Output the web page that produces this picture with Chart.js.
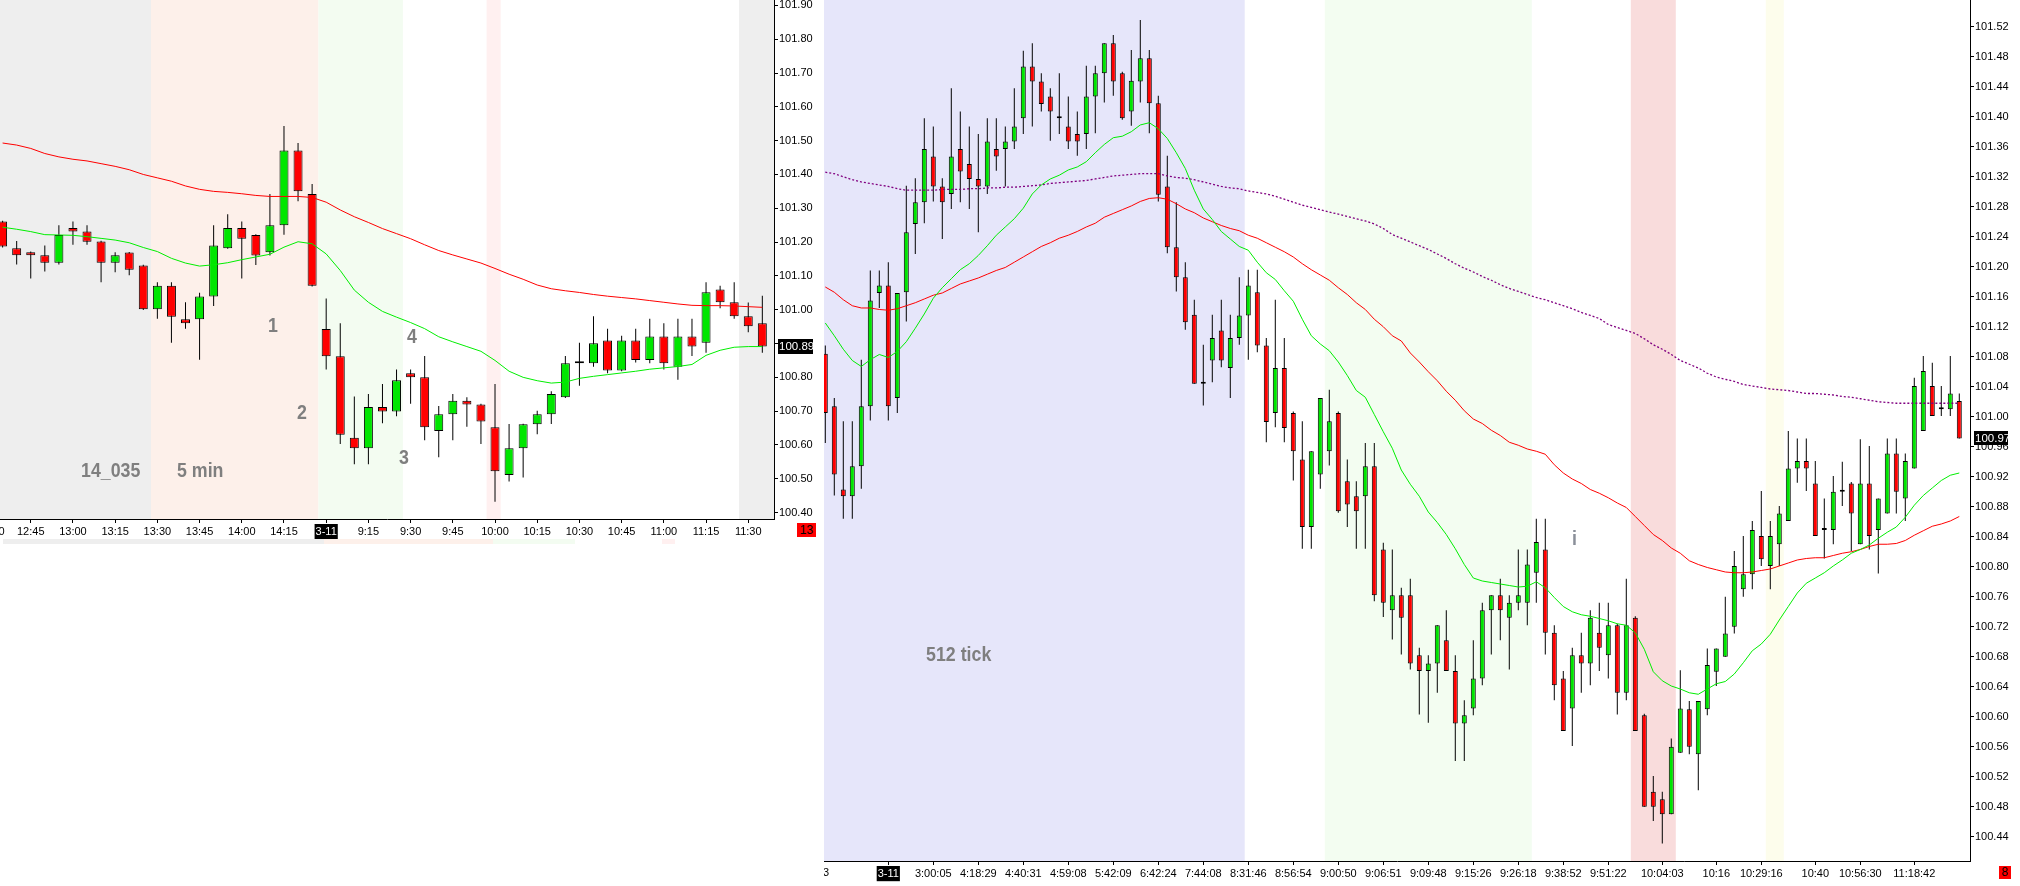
<!DOCTYPE html>
<html><head><meta charset="utf-8">
<script src="https://cdn.jsdelivr.net/npm/chart.js@4/dist/chart.umd.min.js"></script>
<style>
html,body{margin:0;padding:0;background:#fff;width:2020px;height:886px;overflow:hidden;position:relative;}
#wrapL{position:absolute;left:0;top:0;width:820px;height:545px;}
#wrapR{position:absolute;left:824px;top:0;width:1196px;height:886px;}
.ann{position:absolute;font-family:'Liberation Sans',Arial,sans-serif;font-weight:bold;font-size:20px;line-height:20px;color:#7f7f7f;white-space:nowrap;transform:translateY(-50%) scaleX(0.89);transform-origin:0 50%;}
.box{position:absolute;background:#ff0000;color:#000;font-family:'Liberation Sans',Arial,sans-serif;font-size:12px;text-align:center;}
.strip{position:absolute;top:539px;height:5px;}
.lbl{position:absolute;font-family:'Liberation Sans',Arial,sans-serif;font-size:11px;color:#000;white-space:nowrap;}
</style></head>
<body>
<div id="wrapL"><canvas id="cL"></canvas></div>
<div id="wrapR"><canvas id="cR"></canvas></div>

<div class="strip" style="left:3px;width:321px;background:#eeeeee"></div>
<div class="strip" style="left:324px;width:169px;background:#fdf0ea"></div>
<div class="strip" style="left:493px;width:82px;background:#f3fcf1"></div>
<div class="strip" style="left:662px;width:13px;background:#fff0f0"></div>

<div class="ann" style="left:81px;top:470px">14_035</div>
<div class="ann" style="left:177px;top:470px">5 min</div>
<div class="ann" style="left:268px;top:325px">1</div>
<div class="ann" style="left:297px;top:412px">2</div>
<div class="ann" style="left:399px;top:457px">3</div>
<div class="ann" style="left:407px;top:336px">4</div>
<div class="ann" style="left:926px;top:654px">512 tick</div>
<div class="ann" style="left:1572px;top:538px;color:#8a8f99">i</div>

<div class="box" style="left:797px;top:523px;width:19px;height:14px;line-height:14px">13</div>
<div class="box" style="left:1999px;top:866px;width:12px;height:13px;line-height:13px">8</div>
<div class="lbl" style="left:-23px;top:525px">12:30</div>
<div style="position:absolute;left:824px;top:866px;width:5px;height:16px;overflow:hidden"><div class="lbl" style="right:0;top:0">3</div></div>

<script>
// ---------- LEFT CHART (5 min) ----------
const lLabels = {2:'12:45',5:'13:00',8:'13:15',11:'13:30',14:'13:45',17:'14:00',20:'14:15',23:'3-11',26:'9:15',29:'9:30',32:'9:45',35:'10:00',38:'10:15',41:'10:30',44:'10:45',47:'11:00',50:'11:15',53:'11:30'};
const lYTicks = [100.40,100.50,100.60,100.70,100.80,100.90,101.00,101.10,101.20,101.30,101.40,101.50,101.60,101.70,101.80,101.90];
const lOpen  = [101.261,101.182,101.170,101.161,101.139,101.242,101.231,101.202,101.139,101.169,101.131,101.001,101.071,100.972,100.972,101.039,101.182,101.242,101.221,101.170,101.250,101.471,101.342,100.943,100.862,100.621,100.590,100.712,100.699,100.812,100.800,100.641,100.691,100.731,100.720,100.652,100.511,100.590,100.661,100.691,100.741,100.842,100.842,100.909,100.820,100.909,100.851,100.921,100.831,100.921,100.902,101.060,101.022,100.981,100.960];
const lHigh  = [101.263,101.203,101.172,101.190,101.250,101.261,101.250,101.204,101.170,101.171,101.133,101.081,101.081,101.022,101.050,101.250,101.282,101.261,101.223,101.342,101.543,101.493,101.372,101.033,100.960,100.743,100.751,100.780,100.823,100.823,100.863,100.715,100.751,100.741,100.722,100.780,100.662,100.663,100.701,100.759,100.863,100.902,100.981,100.944,100.923,100.944,100.973,100.960,100.973,100.973,101.081,101.071,101.081,101.021,101.041];
const lLow   = [101.184,101.134,101.092,101.113,101.134,101.192,101.192,101.081,101.111,101.102,100.999,100.973,100.902,100.944,100.852,101.011,101.180,101.092,101.132,101.160,101.222,101.321,101.069,100.823,100.603,100.543,100.543,100.664,100.685,100.722,100.614,100.564,100.614,100.654,100.603,100.432,100.492,100.504,100.632,100.662,100.739,100.775,100.831,100.812,100.818,100.844,100.842,100.823,100.793,100.863,100.873,101.004,100.973,100.933,100.873];
const lClose = [101.187,101.161,101.161,101.139,101.221,101.231,101.201,101.139,101.161,101.118,101.001,101.071,100.979,100.960,101.039,101.190,101.242,101.210,101.160,101.250,101.471,101.350,101.071,100.862,100.630,100.590,100.712,100.699,100.791,100.800,100.652,100.691,100.731,100.720,100.669,100.522,100.590,100.661,100.691,100.751,100.842,100.842,100.901,100.820,100.909,100.851,100.921,100.842,100.921,100.891,101.052,101.022,100.981,100.951,100.891];
const lMaSlow = [101.493,101.487,101.477,101.462,101.452,101.445,101.440,101.432,101.424,101.414,101.400,101.390,101.380,101.366,101.356,101.350,101.347,101.343,101.338,101.335,101.335,101.335,101.332,101.318,101.295,101.275,101.258,101.240,101.225,101.210,101.192,101.175,101.162,101.150,101.138,101.122,101.105,101.090,101.073,101.062,101.056,101.051,101.045,101.040,101.036,101.032,101.027,101.022,101.017,101.013,101.012,101.012,101.011,101.009,101.007];
const lMaFast = [101.244,101.238,101.231,101.222,101.221,101.220,101.216,101.211,101.206,101.198,101.184,101.172,101.152,101.138,101.129,101.133,101.139,101.148,101.156,101.164,101.185,101.201,101.195,101.165,101.116,101.058,101.022,100.995,100.978,100.962,100.944,100.920,100.905,100.891,100.877,100.850,100.818,100.800,100.790,100.783,100.786,100.797,100.803,100.808,100.813,100.818,100.824,100.828,100.832,100.838,100.865,100.880,100.889,100.891,100.891];
const lBands = [[-1,10.55,'#eeeeee'],[10.55,22.45,'#fdf0ea'],[22.45,28.45,'#f3fcf1'],[34.4,35.4,'#fff0f0'],[52.35,60,'#eeeeee']];

// ---------- RIGHT CHART (512 tick) ----------
const rLabels = {7:'3-11',12:'3:00:05',17:'4:18:29',22:'4:40:31',27:'4:59:08',32:'5:42:09',37:'6:42:24',42:'7:44:08',47:'8:31:46',52:'8:56:54',57:'9:00:50',62:'9:06:51',67:'9:09:48',72:'9:15:26',77:'9:26:18',82:'9:38:52',87:'9:51:22',93:'10:04:03',99:'10:16',104:'10:29:16',110:'10:40',115:'10:56:30',121:'11:18:42'};
const rYTicks = [100.44,100.48,100.52,100.56,100.60,100.64,100.68,100.72,100.76,100.80,100.84,100.88,100.92,100.96,101.00,101.04,101.08,101.12,101.16,101.20,101.24,101.28,101.32,101.36,101.40,101.44,101.48,101.52];
const rOpen  = [101.084,101.014,100.903,100.894,100.934,101.014,101.165,101.175,101.025,101.166,101.257,101.286,101.347,101.307,101.297,101.357,101.337,101.317,101.307,101.357,101.357,101.367,101.398,101.467,101.447,101.427,101.398,101.387,101.377,101.377,101.427,101.458,101.498,101.458,101.407,101.447,101.478,101.418,101.307,101.226,101.186,101.136,101.044,101.075,101.115,101.065,101.105,101.135,101.166,101.095,101.005,101.065,101.005,100.943,100.853,100.923,100.954,101.005,100.914,100.894,100.894,100.934,100.823,100.742,100.762,100.762,100.682,100.661,100.671,100.702,100.661,100.591,100.611,100.651,100.742,100.762,100.732,100.752,100.752,100.792,100.823,100.712,100.651,100.611,100.682,100.671,100.712,100.682,100.722,100.632,100.732,100.602,100.500,100.490,100.470,100.552,100.610,100.550,100.610,100.660,100.680,100.720,100.770,100.790,100.841,100.801,100.830,100.861,100.931,100.941,100.911,100.849,100.849,100.900,100.911,100.830,100.911,100.849,100.871,100.951,100.891,100.931,100.981,101.041,101.010,101.010,101.021];
const rHigh  = [101.095,101.025,100.994,100.994,101.076,101.195,101.195,101.206,101.165,101.308,101.318,101.398,101.387,101.318,101.438,101.407,101.387,101.377,101.398,101.398,101.387,101.438,101.488,101.498,101.458,101.438,101.458,101.427,101.407,101.468,101.468,101.498,101.509,101.460,101.489,101.529,101.489,101.428,101.348,101.286,101.206,101.156,101.096,101.136,101.156,101.136,101.186,101.196,101.196,101.105,101.156,101.105,101.007,100.994,100.954,101.025,101.036,101.007,100.943,100.914,100.965,100.965,100.832,100.823,100.772,100.784,100.692,100.682,100.722,100.742,100.682,100.622,100.702,100.752,100.762,100.784,100.762,100.823,100.823,100.864,100.864,100.722,100.661,100.692,100.712,100.742,100.752,100.752,100.724,100.784,100.734,100.604,100.521,100.500,100.571,100.662,100.621,100.621,100.691,100.691,100.760,100.821,100.841,100.861,100.901,100.861,100.881,100.981,100.971,100.971,100.941,100.891,100.921,100.940,100.913,100.970,100.961,100.891,100.971,100.971,100.951,101.052,101.081,101.072,101.041,101.081,101.031];
const rLow   = [100.965,100.895,100.864,100.864,100.904,100.995,101.145,100.995,101.005,101.127,101.217,101.258,101.287,101.237,101.277,101.286,101.277,101.246,101.297,101.328,101.307,101.357,101.377,101.387,101.407,101.368,101.377,101.357,101.348,101.357,101.378,101.419,101.428,101.396,101.388,101.419,101.378,101.287,101.218,101.167,101.116,101.044,101.015,101.046,101.066,101.025,101.096,101.076,101.086,100.966,100.986,100.966,100.915,100.824,100.824,100.904,100.935,100.872,100.853,100.824,100.824,100.754,100.733,100.703,100.683,100.663,100.603,100.592,100.632,100.661,100.541,100.541,100.602,100.642,100.683,100.702,100.663,100.742,100.722,100.752,100.683,100.622,100.581,100.561,100.632,100.642,100.661,100.651,100.603,100.622,100.581,100.480,100.461,100.431,100.470,100.552,100.550,100.502,100.602,100.641,100.680,100.711,100.760,100.770,100.801,100.770,100.801,100.861,100.912,100.901,100.841,100.811,100.830,100.881,100.821,100.830,100.823,100.791,100.871,100.871,100.861,100.931,100.981,101.001,101.001,101.001,100.971];
const rClose = [101.005,100.923,100.894,100.934,101.014,101.155,101.175,101.014,101.165,101.246,101.286,101.357,101.307,101.286,101.347,101.327,101.317,101.307,101.367,101.347,101.367,101.387,101.467,101.447,101.417,101.407,101.398,101.367,101.367,101.427,101.458,101.498,101.447,101.398,101.448,101.478,101.418,101.296,101.226,101.186,101.126,101.044,101.044,101.105,101.075,101.105,101.135,101.175,101.095,100.993,101.065,100.985,100.954,100.853,100.954,101.025,100.994,100.874,100.883,100.874,100.934,100.762,100.752,100.762,100.732,100.671,100.661,100.671,100.722,100.661,100.591,100.602,100.651,100.742,100.762,100.742,100.752,100.762,100.803,100.833,100.712,100.642,100.581,100.682,100.671,100.732,100.692,100.722,100.632,100.722,100.581,100.480,100.480,100.470,100.560,100.611,100.560,100.621,100.669,100.691,100.711,100.801,100.790,100.849,100.810,100.841,100.871,100.931,100.941,100.931,100.841,100.849,100.900,100.900,100.871,100.911,100.841,100.891,100.951,100.900,100.941,101.041,101.061,101.001,101.010,101.031,100.971];
const rMaFast = [101.125,101.108,101.090,101.075,101.067,101.076,101.083,101.079,101.087,101.100,101.118,101.137,101.158,101.172,101.184,101.196,101.204,101.215,101.228,101.242,101.253,101.264,101.278,101.297,101.309,101.317,101.322,101.329,101.333,101.340,101.352,101.363,101.372,101.374,101.380,101.389,101.392,101.384,101.371,101.352,101.331,101.302,101.277,101.263,101.247,101.237,101.227,101.222,101.206,101.192,101.183,101.168,101.154,101.130,101.108,101.097,101.088,101.073,101.055,101.035,101.026,101.003,100.980,100.958,100.929,100.910,100.894,100.873,100.859,100.843,100.824,100.803,100.785,100.781,100.779,100.777,100.775,100.773,100.774,100.780,100.772,100.759,100.747,100.740,100.736,100.734,100.731,100.728,100.724,100.722,100.712,100.690,100.660,100.648,100.641,100.637,100.632,100.630,100.637,100.644,100.647,100.657,100.672,100.688,100.697,100.710,100.729,100.747,100.765,100.778,100.785,100.792,100.801,100.809,100.818,100.823,100.829,100.838,100.846,100.853,100.866,100.882,100.895,100.905,100.915,100.922,100.925];
const rMaMid = [101.173,101.166,101.156,101.148,101.145,101.145,101.143,101.142,101.144,101.148,101.152,101.157,101.162,101.165,101.171,101.177,101.181,101.185,101.190,101.195,101.199,101.206,101.213,101.220,101.227,101.232,101.238,101.242,101.247,101.253,101.258,101.266,101.271,101.276,101.281,101.287,101.291,101.292,101.290,101.284,101.277,101.272,101.265,101.260,101.255,101.251,101.248,101.242,101.238,101.232,101.226,101.220,101.213,101.204,101.196,101.189,101.182,101.172,101.163,101.152,101.143,101.130,101.120,101.108,101.101,101.085,101.073,101.060,101.048,101.034,101.022,101.008,100.997,100.991,100.982,100.975,100.966,100.962,100.957,100.954,100.950,100.936,100.925,100.917,100.911,100.903,100.898,100.892,100.885,100.879,100.867,100.855,100.843,100.835,100.825,100.818,100.808,100.803,100.799,100.796,100.793,100.792,100.792,100.793,100.795,100.797,100.801,100.805,100.809,100.811,100.812,100.812,100.815,100.818,100.820,100.823,100.827,100.830,100.830,100.831,100.835,100.842,100.848,100.854,100.857,100.861,100.867];
const rMaSlow = [101.326,101.324,101.320,101.316,101.313,101.311,101.309,101.307,101.304,101.302,101.302,101.302,101.302,101.303,101.303,101.303,101.304,101.304,101.305,101.305,101.306,101.306,101.307,101.308,101.309,101.311,101.312,101.313,101.314,101.315,101.317,101.319,101.321,101.322,101.323,101.324,101.324,101.324,101.321,101.319,101.318,101.316,101.313,101.310,101.307,101.305,101.304,101.301,101.299,101.297,101.294,101.290,101.286,101.282,101.279,101.276,101.273,101.270,101.267,101.264,101.261,101.257,101.251,101.243,101.238,101.233,101.228,101.223,101.217,101.211,101.204,101.198,101.193,101.187,101.182,101.176,101.171,101.167,101.163,101.159,101.156,101.152,101.148,101.144,101.139,101.135,101.131,101.123,101.119,101.115,101.111,101.104,101.096,101.090,101.083,101.075,101.070,101.065,101.058,101.053,101.050,101.047,101.043,101.041,101.039,101.037,101.036,101.035,101.033,101.031,101.031,101.030,101.029,101.027,101.026,101.024,101.022,101.020,101.019,101.018,101.018,101.018,101.018,101.018,101.018,101.018,101.018];
const rBands = [[-1,46.6,'#e6e6fa'],[55.5,78.5,'#f3fdf1'],[89.5,94.5,'#f9dcdc'],[104.5,106.5,'#fdfdec']];

const FONT = "'Liberation Sans',Arial,sans-serif";
const UP = '#00e600', DOWN = '#ff0000';

const bandPlugin = {
  id: 'bands',
  beforeDraw(chart, args, opts) {
    const {ctx, chartArea: a, scales: {x}} = chart;
    ctx.save();
    ctx.beginPath(); ctx.rect(a.left, a.top, a.right - a.left, a.bottom - a.top); ctx.clip();
    (opts.bands || []).forEach(b => {
      const x0 = x.getPixelForValue(b[0]), x1 = x.getPixelForValue(b[1]);
      ctx.fillStyle = b[2]; ctx.fillRect(x0, a.top, x1 - x0, a.bottom - a.top);
    });
    ctx.restore();
  }
};
const priceBox = {
  id: 'priceBox',
  afterDraw(chart, args, o) {
    if (o.value === undefined) return;
    const y = chart.scales.y, ctx = chart.ctx;
    const py = y.getPixelForValue(o.value);
    ctx.save();
    ctx.font = o.size + 'px ' + FONT;
    const txt = o.value.toFixed(2);
    ctx.fillStyle = '#000';
    ctx.fillRect(y.left + 4, Math.round(py - o.h / 2), o.w, o.h);
    ctx.fillStyle = '#fff'; ctx.textBaseline = 'middle'; ctx.textAlign = 'left';
    ctx.fillText(txt, y.left + 5, py + 0.5);
    ctx.restore();
  }
};

function build(canvasId, d) {
  const n = d.open.length;
  const datasets = [];
  d.mas.forEach(m => datasets.push({
    type: 'line', data: m.v.map((v, i) => ({x: i, y: v})), borderColor: m.c, borderWidth: m.w,
    borderDash: m.dash || [], pointRadius: 0, tension: 0, fill: false, order: 0
  }));
  datasets.push({
    type: 'bar', data: d.open.map((o, i) => ({x: i, y: [o, d.close[i]]})),
    backgroundColor: d.close.map((c, i) => c >= d.open[i] ? UP : DOWN),
    borderColor: '#000', borderWidth: 1, borderSkipped: false, barThickness: d.body,
    minBarLength: 2, grouped: false, order: 1, inflateAmount: 0
  });
  datasets.push({
    type: 'bar', data: d.low.map((l, i) => ({x: i, y: [l, d.high[i]]})),
    backgroundColor: '#000', borderWidth: 0, barThickness: 1, grouped: false, order: 2, inflateAmount: 0
  });
  return new Chart(document.getElementById(canvasId), {
    type: 'bar',
    data: {datasets},
    plugins: [bandPlugin, priceBox],
    options: {
      responsive: true, maintainAspectRatio: false, animation: false, devicePixelRatio: 1, events: [],
      layout: {padding: 0},
      plugins: {legend: {display: false}, tooltip: {enabled: false}, title: {display: false},
        bands: {bands: d.bands},
        priceBox: {value: d.close[n - 1], size: 11.5, w: d.boxW, h: d.boxH}},
      scales: {
        x: {
          type: 'linear', position: 'bottom', min: d.xMin, max: d.xMax, offset: false,
          grid: {display: true, drawOnChartArea: false, drawTicks: true, tickLength: 4, color: '#000', offset: false},
          border: {display: true, color: '#000', width: 1},
          ticks: {
            autoSkip: false, maxRotation: 0, minRotation: 0, padding: 2, includeBounds: false,
            font: {family: FONT, size: 11},
            color: c => (c.tick && d.labels[c.tick.value] === '3-11') ? '#fff' : '#000',
            showLabelBackdrop: c => !!(c.tick && d.labels[c.tick.value] === '3-11'),
            backdropColor: '#000', backdropPadding: {top: 1, bottom: 1, left: 1, right: 1},
            callback: v => d.labels[v] || ''
          },
          afterBuildTicks: s => { s.ticks = Object.keys(d.labels).map(k => ({value: +k})); },
          afterFit: s => { s.height = d.xH; s.paddingLeft = 0; s.paddingRight = 0; }
        },
        y: {
          type: 'linear', position: 'right', min: d.yMin, max: d.yMax,
          grid: {display: true, drawOnChartArea: false, drawTicks: true, tickLength: 4, color: '#000'},
          border: {display: true, color: '#000', width: 1},
          ticks: {padding: 1, color: '#000', font: {family: FONT, size: d.ySize}, callback: v => v.toFixed(2)},
          afterBuildTicks: s => { s.ticks = d.yTicks.map(v => ({value: v})); },
          afterFit: s => { s.width = d.yW; s.paddingTop = 0; s.paddingBottom = 0; }
        }
      }
    }
  });
}

build('cL', {
  open: lOpen, high: lHigh, low: lLow, close: lClose, labels: lLabels, yTicks: lYTicks, bands: lBands,
  mas: [{v: lMaSlow, c: '#ff0000', w: 1}, {v: lMaFast, c: '#00ee00', w: 1}],
  body: 9, xMin: -0.185, xMax: 54.83, yMin: 100.381, yMax: 101.916, xH: 26, yW: 46, ySize: 11, boxW: 35, boxH: 15
});
build('cR', {
  open: rOpen, high: rHigh, low: rLow, close: rClose, labels: rLabels, yTicks: rYTicks, bands: rBands,
  mas: [{v: rMaFast, c: '#00ee00', w: 1}, {v: rMaMid, c: '#ff0000', w: 1}, {v: rMaSlow, c: '#800080', w: 1.3, dash: [2, 2]}],
  body: 5, xMin: -0.144, xMax: 127.19, yMin: 100.4077, yMax: 101.5556, xH: 25, yW: 50, ySize: 11, boxW: 34, boxH: 14
});
</script>
</body></html>
